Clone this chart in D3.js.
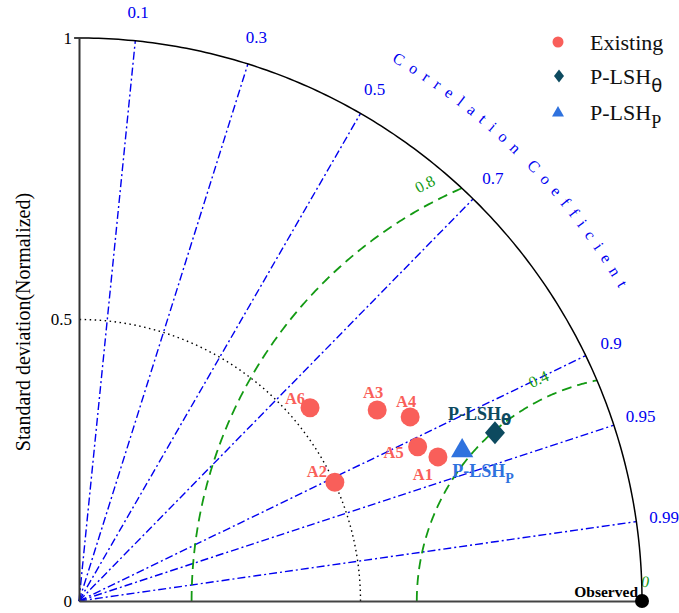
<!DOCTYPE html>
<html>
<head>
<meta charset="utf-8">
<script src="https://cdn.jsdelivr.net/npm/d3@7"></script>
<style>
  html, body { margin: 0; padding: 0; background: #fff; }
  svg { display: block; }
  svg text { font-family: "Liberation Serif", "Times New Roman", "DejaVu Serif", serif; }
</style>
</head>
<body>
<svg id="chart" width="679" height="613"></svg>
<script>
// Taylor diagram: normalized standard deviation vs. correlation coefficient

// ---- data ----
const modelNames = ["A1", "A2", "A3", "A4", "A5", "A6"];
const modelStd   = [0.687, 0.501, 0.629, 0.673, 0.661, 0.535];
const modelCorr  = [0.928, 0.907, 0.842, 0.874, 0.910, 0.767];

const plshThetaStd = 0.797, plshThetaCorr = 0.927;
const plshPStd = 0.731, plshPCorr = 0.931;

const refStd = 1.0;                                  // observed
const stdTicks = [0, 0.5, 1];
const corrTicks = [0.1, 0.3, 0.5, 0.7, 0.9, 0.95, 0.99];
const rmsLevels = [0.8, 0.4, 0];
const stdRefArc = 0.5;

const legendNames = ["Existing", "P-LSH", "P-LSH"];
const legendSubs  = ["", "θ", "P"];

// ---- layout ----
const SERIF = "Liberation Serif";
const ox = 79, oy = 601, R = 563;
const red = "#F95F5A", teal = "#0D4A5F", blueTri = "#2F72DE";
const corrBlue = "#0000F0", green = "#139A13";

const svg = d3.select("#chart");
const r = d3.scaleLinear().domain([0, 1]).range([0, R]);
const yScale = d3.scaleLinear().domain([0, 1]).range([oy, oy - R]);
const xScale = d3.scaleLinear().domain([0, 1]).range([ox, ox + R]);

const px = (s, c) => ox + r(s) * c;
const py = (s, c) => oy - r(s) * Math.sqrt(1 - c * c);
const polar = (rad, ang) => [ox + r(rad) * Math.cos(ang), oy - r(rad) * Math.sin(ang)];

// correlation rays
svg.append("g").selectAll("line").data(corrTicks).join("line")
  .attr("x1", ox).attr("y1", oy)
  .attr("x2", d => polar(1, Math.acos(d))[0])
  .attr("y2", d => polar(1, Math.acos(d))[1])
  .attr("stroke", corrBlue).attr("stroke-width", 1.4)
  .attr("stroke-dasharray", "8,3,2,3");

svg.append("g").selectAll("text").data(corrTicks).join("text")
  .attr("x", d => polar(1.05, Math.acos(d))[0])
  .attr("y", d => polar(1.05, Math.acos(d))[1])
  .attr("text-anchor", "middle").attr("dominant-baseline", "central")
  .attr("font-family", SERIF)
  .attr("fill", corrBlue).attr("font-size", 17)
  .text(d => d);

// dotted std reference arc
const arcPts = d3.range(0, 91, 1).map(a => polar(stdRefArc, a * Math.PI / 180));
svg.append("path").attr("d", d3.line()(arcPts))
  .attr("fill", "none").attr("stroke", "#000").attr("stroke-width", 1.4)
  .attr("stroke-dasharray", "1.5,3.5");

// centered RMS difference contours around the observed point
const rmsLabelAngles = [117.5, 115, 80];
rmsLevels.forEach((lv, i) => {
  if (lv > 0) {
    // end where the contour meets the unit circle
    const xi = (1 + refStd * refStd - lv * lv) / (2 * refStd);
    const yi = Math.sqrt(Math.max(0, 1 - xi * xi));
    const phiMax = Math.atan2(yi, xi - refStd);
    const pts = d3.range(0, 201).map(k => {
      const phi = Math.PI - (Math.PI - phiMax) * k / 200;
      const sx = refStd + lv * Math.cos(phi), sy = lv * Math.sin(phi);
      return [xScale(sx), yScale(sy)];
    });
    svg.append("path").attr("d", d3.line()(pts))
      .attr("fill", "none").attr("stroke", green).attr("stroke-width", 1.8)
      .attr("stroke-dasharray", "10,6");
  }
  const a = rmsLabelAngles[i] * Math.PI / 180;
  const lr = lv + 0.035;
  const lx = xScale(refStd + lr * Math.cos(a)), ly = yScale(lr * Math.sin(a));
  svg.append("text")
    .attr("transform", `translate(${lx},${ly}) rotate(${90 - rmsLabelAngles[i]})`)
    .attr("text-anchor", "middle").attr("dominant-baseline", "central")
    .attr("font-family", SERIF)
    .attr("fill", green).attr("font-size", 16)
    .text(lv);
});

// outer arc (std = 1)
const outer = d3.range(0, 91, 0.5).map(a => polar(1, a * Math.PI / 180));
svg.append("path").attr("d", d3.line()(outer))
  .attr("fill", "none").attr("stroke", "#000").attr("stroke-width", 1.5);

// axes
const yAxis = svg.append("g").attr("transform", `translate(${ox},0)`)
  .call(d3.axisLeft(yScale).tickValues(stdTicks).tickSize(0).tickPadding(7)
    .tickFormat(d => d));
yAxis.attr("font-family", SERIF);
yAxis.select(".domain").attr("stroke", "#333").attr("stroke-width", 2);
yAxis.selectAll("text").attr("font-size", 17).attr("font-family", SERIF).attr("fill", "#000");

const xAxis = svg.append("g").attr("transform", `translate(0,${oy})`)
  .call(d3.axisBottom(xScale).tickValues([]).tickSizeOuter(0));
xAxis.select(".domain").attr("stroke", "#444").attr("stroke-width", 2);

svg.append("text")
  .attr("transform", `translate(30,322) rotate(-90)`)
  .attr("text-anchor", "middle").attr("font-size", 20).attr("fill", "#000")
  .attr("font-family", SERIF)
  .text("Standard deviation(Normalized)");

// curved axis title, one glyph at a time along an arc
const titleChars = Array.from("Correlation Coefficient");
const titleR = r(1.108), titleSpacing = 8.2, titleMid = 45 * Math.PI / 180;
const tg = svg.append("g").attr("fill", corrBlue).attr("font-size", 16).attr("font-family", SERIF);
const glyphs = tg.selectAll("text").data(titleChars).join("text")
  .attr("text-anchor", "middle").text(d => d);
const widths = glyphs.nodes().map(n => n.getComputedTextLength());
const totalLen = d3.sum(widths) + titleSpacing * (titleChars.length - 1);
let acc = 0;
const centers = widths.map(w => { const c = acc + w / 2; acc += w + titleSpacing; return c; });
glyphs.attr("transform", (d, i) => {
  const ang = titleMid + (totalLen / 2 - centers[i]) / titleR;
  const x = ox + titleR * Math.cos(ang), y = oy - titleR * Math.sin(ang);
  return `translate(${x},${y}) rotate(${90 - ang * 180 / Math.PI})`;
});

// observed reference
svg.append("circle").attr("cx", xScale(refStd)).attr("cy", yScale(0)).attr("r", 7).attr("fill", "#000");
svg.append("text").attr("x", xScale(refStd) - 4).attr("y", oy - 4)
  .attr("text-anchor", "end").attr("font-weight", "bold").attr("font-size", 15.5)
  .attr("font-family", SERIF)
  .text("Observed");

// existing models
const labelOffsets = {
  A1: [-15, 23], A2: [-18, -5], A3: [-4, -12], A4: [-4, -10], A5: [-24, 11], A6: [-15, -4]
};
const models = modelNames.map((n, i) => ({ name: n, s: modelStd[i], c: modelCorr[i] }));
svg.append("g").selectAll("circle").data(models).join("circle")
  .attr("cx", d => px(d.s, d.c)).attr("cy", d => py(d.s, d.c)).attr("r", 9.5)
  .attr("fill", red);
svg.append("g").selectAll("text").data(models).join("text")
  .attr("x", d => px(d.s, d.c) + labelOffsets[d.name][0])
  .attr("y", d => py(d.s, d.c) + labelOffsets[d.name][1])
  .attr("text-anchor", "middle").attr("font-weight", "bold").attr("font-size", 16.5)
  .attr("font-family", SERIF)
  .attr("fill", red).text(d => d.name);

// proposed methods
const diamond = (hw, hh) => `M0,${-hh}L${hw},0L0,${hh}L${-hw},0Z`;
const tx = px(plshThetaStd, plshThetaCorr), ty = py(plshThetaStd, plshThetaCorr);
svg.append("path").attr("transform", `translate(${tx},${ty})`).attr("d", diamond(10, 11.5)).attr("fill", teal);
const ppx = px(plshPStd, plshPCorr), ppy = py(plshPStd, plshPCorr);
svg.append("path").attr("transform", `translate(${ppx},${ppy})`)
  .attr("d", d3.symbol(d3.symbolTriangle, 215)()).attr("fill", blueTri);

const lt = svg.append("text").attr("x", tx - 47).attr("y", ty - 13)
  .attr("font-family", SERIF)
  .attr("font-weight", "bold").attr("font-size", 18).attr("fill", teal);
lt.append("tspan").text("P-LSH");
lt.append("tspan").attr("dy", 5).attr("font-size", 15).attr("font-family", "DejaVu Sans").text("θ");

const lp = svg.append("text").attr("x", ppx - 10).attr("y", ppy + 26)
  .attr("font-family", SERIF)
  .attr("font-weight", "bold").attr("font-size", 18).attr("fill", blueTri);
lp.append("tspan").text("P-LSH");
lp.append("tspan").attr("dy", 6).attr("font-size", 14).text("P");

// legend
const legY = [42, 76, 112];
const lg = svg.append("g");
lg.append("circle").attr("cx", 558).attr("cy", legY[0]).attr("r", 5.5).attr("fill", red);
lg.append("path").attr("transform", `translate(559,${legY[1]})`).attr("d", diamond(5, 6.5)).attr("fill", teal);
lg.append("path").attr("transform", `translate(558,${legY[2] + 1})`)
  .attr("d", d3.symbol(d3.symbolTriangle, 62)()).attr("fill", blueTri);
legendNames.forEach((n, i) => {
  const t = lg.append("text").attr("x", 590).attr("y", legY[i] + 8)
    .attr("font-family", SERIF)
    .attr("font-size", 22).attr("fill", "#111");
  t.append("tspan").text(n);
  if (legendSubs[i]) {
    t.append("tspan").attr("dy", 8).attr("font-size", 18)
      .attr("font-family", i === 1 ? "DejaVu Sans" : SERIF)
      .text(legendSubs[i]);
  }
});
</script>
</body>
</html>
